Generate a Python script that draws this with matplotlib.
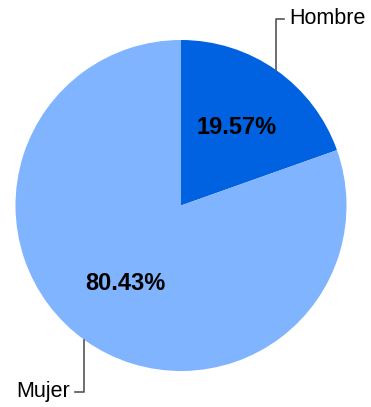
import matplotlib
matplotlib.use("Agg")
import matplotlib.pyplot as plt
import numpy as np

categories = ["Hombre", "Mujer"]
values = [19.57, 80.43]
colors = ["#0062E0", "#80B4FF"]

W, H = 371, 407
fig = plt.figure(figsize=(W / 100, H / 100), dpi=100)
ax = fig.add_axes([0, 0, 1, 1])

cx, cy, r = 181, H - 205.5, 165.5
wedges, texts, autotexts = ax.pie(
    values, colors=colors, startangle=90, counterclock=False,
    center=(cx, cy), radius=r, autopct=lambda p: f"{p:.2f}%",
    pctdistance=0.58, frame=True,
    textprops=dict(fontsize=17, fontweight="bold", color="black",
                   family=["Liberation Sans", "DejaVu Sans"]),
)
ax.set_xlim(0, W)
ax.set_ylim(0, H)
ax.set_aspect("equal")
ax.axis("off")

def leader(idx, xline, ytext, side):
    w = wedges[idx]
    dx = xline - cx
    dy = np.sqrt(r**2 - dx**2)
    mid = (w.theta1 + w.theta2) / 2
    yedge = cy + dy if np.sin(np.radians(mid)) > 0 else cy - dy
    yt = H - ytext
    if side == "right":
        ax.plot([xline, xline, xline + 8], [yedge, yt, yt], color="#555555", lw=1.2)
        ax.text(xline + 13, yt, categories[idx], ha="left", va="center", fontsize=15.5,
                family=["Liberation Sans", "DejaVu Sans"])
    else:
        ax.plot([xline, xline, xline - 9], [yedge, yt, yt], color="#555555", lw=1.2)
        ax.text(xline - 14, yt, categories[idx], ha="right", va="center", fontsize=15.5,
                family=["Liberation Sans", "DejaVu Sans"])

leader(0, 276, 19, "right")
leader(1, 84, 392, "left")

fig.savefig("out.png", dpi=100)
